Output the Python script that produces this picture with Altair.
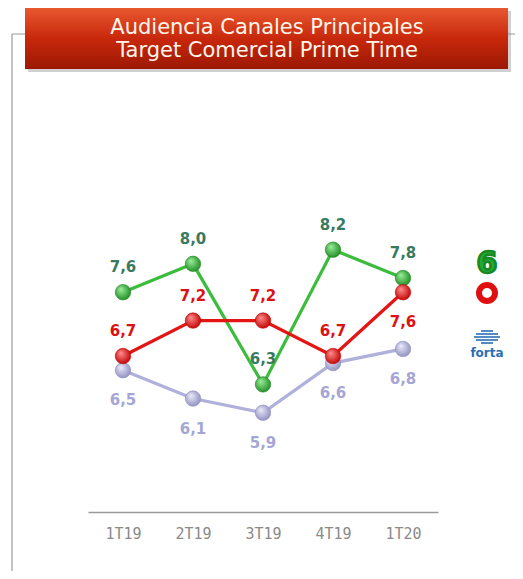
import altair as alt
import pandas as pd

# ---- data ----
quarters = ["1T19", "2T19", "3T19", "4T19", "1T20"]
la_sexta = [7.6, 8.0, 6.3, 8.2, 7.8]
cuatro = [6.7, 7.2, 7.2, 6.7, 7.6]
forta = [6.5, 6.1, 5.9, 6.6, 6.8]
title_lines = ["Audiencia  Canales Principales", "Target Comercial  Prime Time"]

one = pd.DataFrame({"a": [0]})

x = alt.X(
    "q:N", sort=quarters,
    scale=alt.Scale(type="point", padding=0.5),
    axis=alt.Axis(title=None, labelAngle=0, domainColor="#9a9a9a", domainWidth=1.5,
                  ticks=False, grid=False, labelFont="DejaVu Sans Mono", labelFontSize=15,
                  labelColor="#8a8a8a", labelPadding=14),
)
y = alt.Y("v:Q", scale=alt.Scale(domain=[4.5, 11.2], nice=False, zero=False), axis=None)


def sphere(light, dark):
    return alt.RadialGradient(
        gradient="radial",
        stops=[alt.GradientStop(offset=0, color=light), alt.GradientStop(offset=1, color=dark)],
        x1=0.35, y1=0.3, r1=0, x2=0.45, y2=0.45, r2=0.6,
    )


def series(vals, line_col, light, dark):
    d = pd.DataFrame({"q": quarters, "v": vals})
    base = alt.Chart(d).encode(x=x, y=y).transform_calculate(
        lbl="replace(format(datum.v, '.1f'), '.', ',')"
    )
    line = base.mark_line(color=line_col, strokeWidth=3.2)
    pts = base.mark_circle(size=240, opacity=1, fill=sphere(light, dark),
                           stroke=dark, strokeWidth=0.6)
    return base, line, pts


txt = dict(font="DejaVu Sans", fontSize=15, fontWeight="bold")

gb, gl, gp = series(la_sexta, "#3cbc3c", "#9cf09c", "#1f8a22")
rb, rl, rp = series(cuatro, "#e31515", "#ff9090", "#c20000")
bb, bl, bp = series(forta, "#b0b1db", "#ececfa", "#8e8ec0")

g_lab = gb.mark_text(dy=-25, color="#3a7a5e", **txt).encode(text="lbl:N")
b_lab = bb.mark_text(dy=30, color="#a6a6d6", **txt).encode(text="lbl:N")
r_lab_up = rb.mark_text(dy=-25, color="#dd1111", **txt).encode(text="lbl:N").transform_filter(
    "datum.q != '1T20'")
r_lab_dn = rb.mark_text(dy=30, color="#dd1111", **txt).encode(text="lbl:N").transform_filter(
    "datum.q == '1T20'")

# ---- decorations ----
frame_left = alt.Chart(one).mark_rule(color="#9a9a9a", strokeWidth=1.2).encode(
    x=alt.value(-76), y=alt.value(-3), y2=alt.value(560))
frame_top = alt.Chart(one).mark_rule(color="#9a9a9a", strokeWidth=1.2).encode(
    x=alt.value(-76), x2=alt.value(440), y=alt.value(-3))

shadow = alt.Chart(one).mark_rect(color="#777777", opacity=0.35).encode(
    x=alt.value(-60), x2=alt.value(423), y=alt.value(-26), y2=alt.value(35))
box_grad = alt.LinearGradient(
    gradient="linear",
    stops=[alt.GradientStop(offset=0, color="#e8582f"),
           alt.GradientStop(offset=0.5, color="#c8280c"),
           alt.GradientStop(offset=1, color="#9c1804")],
    x1=0, y1=0, x2=0, y2=1,
)
box = alt.Chart(one).mark_rect(color=box_grad).encode(
    x=alt.value(-63), x2=alt.value(420), y=alt.value(-29), y2=alt.value(32))
title = alt.Chart(pd.DataFrame({"t": ["\n".join(title_lines)]})).mark_text(
    font="DejaVu Sans", fontSize=21, color="#fff6ea", lineBreak="\n", lineHeight=23,
    align="center", baseline="middle",
).encode(x=alt.value(179), y=alt.value(-9), text="t:N")

logo6 = alt.Chart(pd.DataFrame({"t": ["6"]})).mark_text(
    font="DejaVu Sans", fontSize=30, fontWeight="bold", color="#22aa33",
    stroke="#178a25", strokeWidth=2.5,
    align="center", baseline="middle").encode(x=alt.value(399), y=alt.value(227), text="t:N")
logo_o = alt.Chart(one).mark_point(shape="circle", size=256, stroke="#e01010",
                                   strokeWidth=6, filled=False, opacity=1).encode(
    x=alt.value(399), y=alt.value(256))
forta_lines = alt.Chart(pd.DataFrame({"x1": [393, 388, 386, 388, 393],
                                      "x2": [405, 410, 412, 410, 405],
                                      "yy": [294, 297, 300, 303, 306]})).mark_rule(
    color="#2a6fb5", strokeWidth=1.6).encode(
    x=alt.X("x1:Q", scale=None), x2="x2:Q", y=alt.Y("yy:Q", scale=None))
forta_txt = alt.Chart(pd.DataFrame({"t": ["forta"]})).mark_text(
    font="DejaVu Sans", fontSize=12, fontWeight="bold", color="#2a6fb5",
    align="center", baseline="middle").encode(x=alt.value(399), y=alt.value(316), text="t:N")

chart = alt.layer(
    frame_left, frame_top, shadow, box, title,
    bl, gl, rl, bp, gp, rp,
    g_lab, b_lab, r_lab_up, r_lab_dn,
    logo6, logo_o, forta_lines, forta_txt,
).properties(
    width=350, height=475,
    padding={"left": 80, "top": 29, "right": 77, "bottom": 59},
    autosize=alt.AutoSizeParams(type="none"),
    background="white",
).configure_view(stroke=None)

chart.save("out.html", embed_options={"renderer": "svg", "actions": False})
